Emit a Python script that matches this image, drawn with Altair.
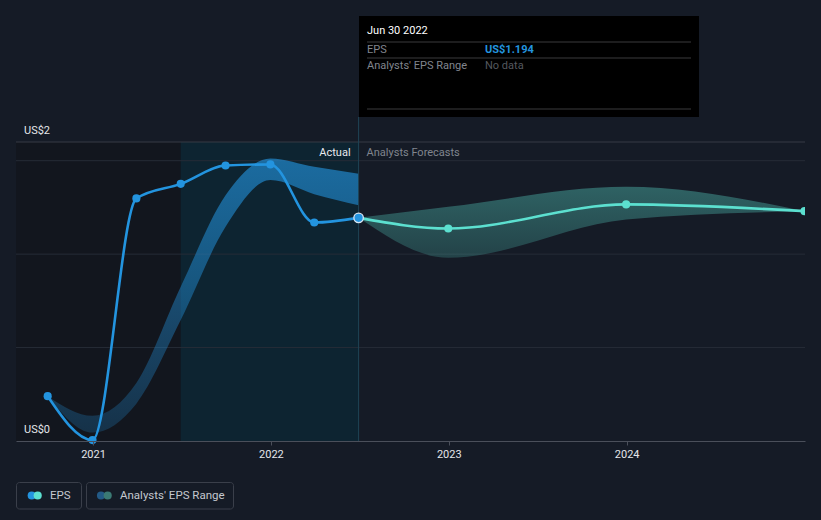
import altair as alt
import pandas as pd

# ---------------- data ----------------
actual_dates = ["2020-09-30", "2020-12-31", "2021-03-31", "2021-06-30",
                "2021-09-30", "2021-12-31", "2022-03-31", "2022-06-30"]
actual_eps = [0.24, 0.005, 1.298, 1.376, 1.474, 1.48, 1.169, 1.194]
past_low = [0.24, 0.045, 0.20, 0.647, 1.146, 1.396, 1.321, 1.262]
past_high = [0.24, 0.135, 0.31, 0.825, 1.315, 1.512, 1.467, 1.43]

forecast_dates = ["2022-06-30", "2022-12-31", "2023-12-31", "2024-12-31"]
forecast_eps = [1.194, 1.137, 1.266, 1.23]
forecast_low = [1.194, 0.98, 1.185, 1.23]
forecast_high = [1.194, 1.253, 1.36, 1.23]

region_start = ["2020-07-27", "2021-06-30"]
region_end = ["2021-06-30", "2022-06-30"]
region_fill = ["#12161e", "#0d2431"]

grid_values = [0.5, 1.0, 1.5]
y_label_text = ["US$0", "US$2"]
y_label_pos = [0, 1.6]
year_ticks = [2021, 2022, 2023, 2024]

tooltip_date = "Jun 30 2022"
tooltip_eps = "US$1.194"
selected_date = "2022-06-30"

BG = "#151b26"
BLUE = "#2394df"
TEAL = "#5ce0d0"
FONT = "Roboto"

W, H = 789, 299

actual_df = pd.DataFrame({"date": actual_dates, "eps": actual_eps,
                          "low": past_low, "high": past_high})
fc_df = pd.DataFrame({"date": forecast_dates, "eps": forecast_eps,
                      "low": forecast_low, "high": forecast_high})
region_df = pd.DataFrame({"start": region_start, "end": region_end,
                          "fill": region_fill, "bottom": [0, 0], "top": [1.6, 1.6]})
grid_df = pd.DataFrame({"v": grid_values})
ylab_df = pd.DataFrame({"t": y_label_text, "v": y_label_pos})
sel_df = pd.DataFrame({"date": [selected_date]})
one = pd.DataFrame({"a": [0]})

xscale = alt.Scale(type="utc", domain=[alt.DateTime(year=2020, month=7, date=27, utc=True),
                                       alt.DateTime(year=2025, month=1, date=1, utc=True)])
xaxis = alt.Axis(values=[alt.DateTime(year=y, month=1, date=1, utc=True) for y in year_ticks],
                 format="%Y", title=None, grid=False, domainColor="#4a4f5a",
                 tickColor="#4a4f5a", tickSize=4, labelColor="#e4e6ea", labelFontSize=11,
                 labelFont=FONT, labelPadding=3, zindex=1)
yscale = alt.Scale(domain=[0, 1.6], nice=False, zero=False)


def X(field):
    return alt.X(field, scale=xscale, axis=xaxis)


def Y(field):
    return alt.Y(field, scale=yscale, axis=None)


regions = alt.Chart(region_df).mark_rect().encode(
    x=X("start:T"), x2="end:T", y=Y("bottom:Q"), y2="top:Q",
    color=alt.Color("fill:N", scale=None))

grid = alt.Chart(grid_df).mark_rule(color="#262c37", strokeWidth=1).encode(y=Y("v:Q"))
topline = alt.Chart(one).mark_rule(color="#363b45", strokeWidth=1).encode(
    y=alt.value(0), x=alt.value(0), x2=alt.value(W))

past_grad = alt.Gradient(gradient="linear",
                         stops=[alt.GradientStop(color="rgba(35,148,223,0.22)", offset=0),
                                alt.GradientStop(color="rgba(35,148,223,0.64)", offset=1)],
                         x1=0, x2=0, y1=1, y2=0)
fc_grad = alt.Gradient(gradient="linear",
                       stops=[alt.GradientStop(color="rgba(92,224,208,0.2)", offset=0),
                              alt.GradientStop(color="rgba(92,224,208,0.36)", offset=1)],
                       x1=0, x2=0, y1=1, y2=0)

past_band = alt.Chart(actual_df).mark_area(interpolate="monotone", color=past_grad).encode(
    x=X("date:T"), y=Y("high:Q"), y2="low:Q")
fc_band = alt.Chart(fc_df).mark_area(interpolate="monotone", color=fc_grad).encode(
    x=X("date:T"), y=Y("high:Q"), y2="low:Q")

vline = alt.Chart(sel_df).mark_rule(color="#1e4456", strokeWidth=1).encode(
    x=X("date:T"), y=alt.value(-25), y2=alt.value(H))

actual_line = alt.Chart(actual_df).mark_line(interpolate="monotone", color=BLUE,
                                             strokeWidth=2.6).encode(x=X("date:T"), y=Y("eps:Q"))
fc_line = alt.Chart(fc_df).mark_line(interpolate="monotone", color=TEAL,
                                     strokeWidth=2.6).encode(x=X("date:T"), y=Y("eps:Q"))
actual_pts = alt.Chart(actual_df.iloc[:-1]).mark_circle(size=66, color=BLUE, opacity=1).encode(
    x=X("date:T"), y=Y("eps:Q"))
fc_pts = alt.Chart(fc_df.iloc[1:]).mark_circle(size=66, color=TEAL, opacity=1, clip=True).encode(
    x=X("date:T"), y=Y("eps:Q"))
sel_pt = alt.Chart(actual_df.iloc[[-1]]).mark_point(filled=True, size=90, fill=BLUE, opacity=1,
                                                     stroke="#d8e6f2", strokeWidth=1.3,
                                                     strokeOpacity=1).encode(
    x=X("date:T"), y=Y("eps:Q"))

actual_lbl = alt.Chart(sel_df).mark_text(text="Actual", align="right", baseline="middle",
                                         dx=-8, font=FONT, fontSize=11, color="#e8eaee").encode(
    x=X("date:T"), y=alt.value(11))
fc_lbl = alt.Chart(sel_df).mark_text(text="Analysts Forecasts", align="left", baseline="middle",
                                     dx=8, font=FONT, fontSize=11, color="#80858e").encode(
    x=X("date:T"), y=alt.value(11))

ylabels = alt.Chart(ylab_df).mark_text(align="left", baseline="middle", dy=-11.5, font=FONT,
                                       fontSize=11, color="#e4e6ea").encode(
    x=alt.value(8), y=Y("v:Q"), text="t:N")

# ---------- tooltip box ----------
tip_box = alt.Chart(one).mark_rect(color="#000000").encode(
    x=alt.value(343), x2=alt.value(683), y=alt.value(-126), y2=alt.value(-25))
tip_lines_df = pd.DataFrame({"yy": [-100, -84, -33]})
tip_lines = alt.Chart(tip_lines_df).mark_rule(color="#3a3a3c", strokeWidth=1).encode(
    x=alt.value(351), x2=alt.value(675), y=alt.Y("yy:Q", scale=None, axis=None))
tip_title = alt.Chart(one).mark_text(text=tooltip_date, align="left", baseline="middle",
                                     font=FONT, fontSize=11, color="#ffffff").encode(
    x=alt.value(351), y=alt.value(-111))
tip_eps_k = alt.Chart(one).mark_text(text="EPS", align="left", baseline="middle",
                                     font=FONT, fontSize=11, color="#80858e").encode(
    x=alt.value(351), y=alt.value(-92.5))
tip_eps_v = alt.Chart(one).mark_text(text=tooltip_eps, align="left", baseline="middle",
                                     font=FONT, fontSize=11, fontWeight="bold",
                                     color=BLUE).encode(x=alt.value(469), y=alt.value(-92.5))
tip_rng_k = alt.Chart(one).mark_text(text="Analysts' EPS Range", align="left", baseline="middle",
                                     font=FONT, fontSize=11, color="#80858e").encode(
    x=alt.value(351), y=alt.value(-76))
tip_rng_v = alt.Chart(one).mark_text(text="No data", align="left", baseline="middle",
                                     font=FONT, fontSize=11, color="#54585f").encode(
    x=alt.value(469), y=alt.value(-76))

# ---------- legend ----------
leg_box_df = pd.DataFrame({"x1": [0.5, 70.5], "x2": [65.5, 217.5]})
leg_boxes = alt.Chart(leg_box_df).mark_rect(fill=BG, stroke="#3a3f4a", strokeWidth=1,
                                            cornerRadius=3).encode(
    x=alt.X("x1:Q", scale=None, axis=None), x2="x2:Q", y=alt.value(340.5), y2=alt.value(367))
leg_dot_df = pd.DataFrame({"cx": [15.7, 21.7, 85, 91.7],
                           "c": [BLUE, TEAL, "#235a86", "#3b7a74"]})
leg_dots = alt.Chart(leg_dot_df).mark_circle(size=66, opacity=1).encode(
    x=alt.X("cx:Q", scale=None, axis=None), y=alt.value(353.5),
    color=alt.Color("c:N", scale=None))
leg_text_df = pd.DataFrame({"tx": [34, 104], "t": ["EPS", "Analysts' EPS Range"]})
leg_text = alt.Chart(leg_text_df).mark_text(align="left", baseline="middle", font=FONT,
                                            fontSize=11.5, color="#c4c8cf").encode(
    x=alt.X("tx:Q", scale=None, axis=None), y=alt.value(353.5), text="t:N")

chart = alt.layer(
    regions, grid, topline, past_band, fc_band, vline, actual_line, fc_line,
    actual_pts, fc_pts, sel_pt, actual_lbl, fc_lbl, ylabels,
    tip_box, tip_lines, tip_title, tip_eps_k, tip_eps_v, tip_rng_k, tip_rng_v,
    leg_boxes, leg_dots, leg_text
).properties(
    width=W, height=H, background=BG, autosize="none",
    padding={"left": 16, "top": 142, "right": 16, "bottom": 79}
).configure(font=FONT, view=alt.ViewConfig(strokeWidth=0, stroke=None))

chart.save("out.html", embed_options={"renderer": "svg", "actions": False})
